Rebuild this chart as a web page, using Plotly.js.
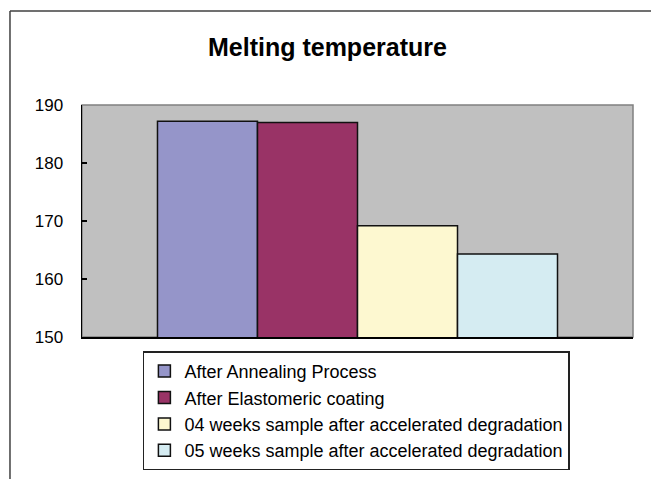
<!DOCTYPE html>
<html>
<head>
<meta charset="utf-8">
<script src="https://cdn.plot.ly/plotly-3.0.1.min.js"></script>
<style>
  html, body { margin: 0; padding: 0; background: #ffffff; }
  #chart { width: 651px; height: 479px; }
</style>
</head>
<body>
<div id="chart"></div>
<script>
// ---- Data ----
const seriesNames = [
  "After Annealing Process",
  "After Elastomeric coating",
  "04 weeks sample after accelerated degradation",
  "05 weeks sample after accelerated degradation"
];
const seriesValues = [187.2, 187.0, 169.2, 164.3];
const seriesColors = ["#9595C9", "#993366", "#FDF8D0", "#D5ECF2"];
const category = [0];
const yTicks = [150, 160, 170, 180, 190];

// ---- Traces ----
const traces = seriesNames.map((name, i) => ({
  type: "bar",
  name: name,
  x: category,
  y: [seriesValues[i]],
  legendgroup: "g" + i,
  marker: { color: seriesColors[i], line: { color: "#111111", width: 1.5 } },
  hoverinfo: "name+y"
}));

const fontFamily = "'Liberation Sans', Arial, sans-serif";

const layout = {
  width: 651,
  height: 479,
  margin: { l: 82, r: 18, t: 105, b: 142, autoexpand: false },
  paper_bgcolor: "#ffffff",
  plot_bgcolor: "#C0C0C0",
  font: { family: fontFamily, color: "#000000" },
  title: {
    text: "<b>Melting temperature</b>",
    font: { family: fontFamily, size: 25, color: "#000000" },
    xref: "container", x: 0.503, xanchor: "center",
    yref: "container", y: 0.902, yanchor: "middle"
  },
  barmode: "group",
  bargap: 0.274,
  bargroupgap: 0,
  xaxis: {
    range: [-0.5, 0.5],
    showticklabels: false,
    ticks: "",
    showgrid: false,
    zeroline: false,
    showline: true,
    linecolor: "#000000",
    linewidth: 1.5,
    fixedrange: true
  },
  yaxis: {
    range: [150, 190],
    tickvals: yTicks,
    ticktext: yTicks.map(String),
    ticks: "inside",
    ticklen: 5,
    tickwidth: 1.5,
    tickcolor: "#000000",
    ticklabelstandoff: 14,
    tickfont: { family: fontFamily, size: 17, color: "#000000" },
    showgrid: false,
    zeroline: false,
    showline: true,
    linecolor: "#000000",
    linewidth: 1.5,
    fixedrange: true
  },
  legend: {
    x: 0.498, xanchor: "center",
    y: -0.062, yanchor: "top",
    orientation: "v",
    bgcolor: "#ffffff",
    bordercolor: "#222222",
    borderwidth: 1.5,
    tracegroupgap: 8,
    font: { family: fontFamily, size: 18, color: "#000000" },
    traceorder: "normal"
  },
  shapes: [
    // grey plot-area border (top/right)
    { type: "rect", xref: "paper", yref: "paper", x0: 0, x1: 1, y0: 0, y1: 1,
      line: { color: "#808080", width: 1.5 }, fillcolor: "rgba(0,0,0,0)", layer: "below" },
    // outer chart frame (left and top edges)
    { type: "line", xref: "paper", yref: "paper", x0: -0.1307, x1: -0.1307, y0: -0.75, y1: 1.405,
      line: { color: "#404040", width: 1.5 } },
    { type: "line", xref: "paper", yref: "paper", x0: -0.1307, x1: 1.1, y0: 1.405, y1: 1.405,
      line: { color: "#404040", width: 1.5 } }
  ],
  showlegend: true
};

Plotly.newPlot("chart", traces, layout, { displayModeBar: false, staticPlot: true });
</script>
</body>
</html>
